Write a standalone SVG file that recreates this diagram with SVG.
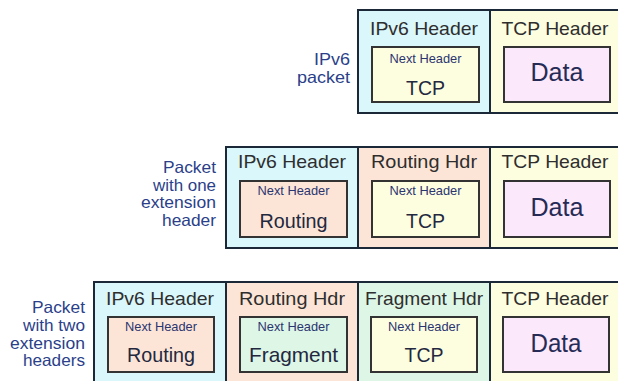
<svg xmlns="http://www.w3.org/2000/svg" width="618" height="381" viewBox="0 0 618 381">
<style>
.cell{stroke:#1a2838;stroke-width:2}
.ipv6{fill:#daf7fb}.rout{fill:#fce5d7}.frag{fill:#def6e6}.tcp{fill:#fdfde0}.data{fill:#fbe8fb}
.inner{stroke:#333;stroke-width:2}
text{font-family:"Liberation Sans",Arial,sans-serif}
.hl{font-size:19px;fill:#2e2e2e;text-anchor:middle}
.nh{font-size:13px;fill:#2b3570;text-anchor:middle}
.val{font-size:21px;fill:#23283f;text-anchor:middle}
.dt{font-size:26px;fill:#262b55;text-anchor:middle}
.lbl{font-size:16.5px;fill:#2b3f8a;text-anchor:end}
</style>
<rect width="618" height="381" fill="#ffffff"/>

<!-- Row 1 -->
<g id="row1-label">
<text class="lbl" x="350" y="65" textLength="36" lengthAdjust="spacingAndGlyphs">IPv6</text>
<text class="lbl" x="350" y="83" textLength="53" lengthAdjust="spacingAndGlyphs">packet</text>
</g>
<g id="row1-ipv6">
<rect class="cell ipv6" x="358" y="10" width="132" height="103"/>
<text class="hl" x="424" y="35" textLength="108" lengthAdjust="spacingAndGlyphs">IPv6 Header</text>
<rect class="inner tcp" x="372" y="47" width="107" height="55"/>
<text class="nh" x="425.5" y="63" textLength="72" lengthAdjust="spacingAndGlyphs">Next Header</text>
<text class="val" x="425.5" y="95" textLength="39" lengthAdjust="spacingAndGlyphs">TCP</text>
</g>
<g id="row1-tcp">
<rect class="cell tcp" x="490" y="10" width="132" height="103"/>
<text class="hl" x="555" y="35" textLength="107" lengthAdjust="spacingAndGlyphs">TCP Header</text>
<rect class="inner data" x="504" y="47" width="106" height="55"/>
<text class="dt" x="557" y="81" textLength="53" lengthAdjust="spacingAndGlyphs">Data</text>
</g>

<!-- Row 2 -->
<g id="row2-label">
<text class="lbl" x="216" y="173" textLength="53" lengthAdjust="spacingAndGlyphs">Packet</text>
<text class="lbl" x="216" y="190.5" textLength="63" lengthAdjust="spacingAndGlyphs">with one</text>
<text class="lbl" x="216" y="208" textLength="75" lengthAdjust="spacingAndGlyphs">extension</text>
<text class="lbl" x="216" y="225.5" textLength="54" lengthAdjust="spacingAndGlyphs">header</text>
</g>
<g id="row2-ipv6">
<rect class="cell ipv6" x="226" y="147" width="132" height="101"/>
<text class="hl" x="292" y="168" textLength="108" lengthAdjust="spacingAndGlyphs">IPv6 Header</text>
<rect class="inner rout" x="240" y="181" width="107" height="56"/>
<text class="nh" x="293.5" y="195" textLength="72" lengthAdjust="spacingAndGlyphs">Next Header</text>
<text class="val" x="293.5" y="228" textLength="68" lengthAdjust="spacingAndGlyphs">Routing</text>
</g>
<g id="row2-routing">
<rect class="cell rout" x="358" y="147" width="132" height="101"/>
<text class="hl" x="424" y="168" textLength="106" lengthAdjust="spacingAndGlyphs">Routing Hdr</text>
<rect class="inner tcp" x="372" y="181" width="107" height="56"/>
<text class="nh" x="425.5" y="195" textLength="72" lengthAdjust="spacingAndGlyphs">Next Header</text>
<text class="val" x="425.5" y="228" textLength="39" lengthAdjust="spacingAndGlyphs">TCP</text>
</g>
<g id="row2-tcp">
<rect class="cell tcp" x="490" y="147" width="132" height="101"/>
<text class="hl" x="555" y="168" textLength="107" lengthAdjust="spacingAndGlyphs">TCP Header</text>
<rect class="inner data" x="504" y="181" width="106" height="56"/>
<text class="dt" x="557" y="216" textLength="53" lengthAdjust="spacingAndGlyphs">Data</text>
</g>

<!-- Row 3 -->
<g id="row3-label">
<text class="lbl" x="85" y="313" textLength="53" lengthAdjust="spacingAndGlyphs">Packet</text>
<text class="lbl" x="85" y="331" textLength="62" lengthAdjust="spacingAndGlyphs">with two</text>
<text class="lbl" x="85" y="348.5" textLength="75" lengthAdjust="spacingAndGlyphs">extension</text>
<text class="lbl" x="85" y="366" textLength="62" lengthAdjust="spacingAndGlyphs">headers</text>
</g>
<g id="row3-ipv6">
<rect class="cell ipv6" x="94" y="282" width="132" height="103"/>
<text class="hl" x="160" y="305" textLength="108" lengthAdjust="spacingAndGlyphs">IPv6 Header</text>
<rect class="inner rout" x="108" y="317" width="106" height="55"/>
<text class="nh" x="161" y="331" textLength="72" lengthAdjust="spacingAndGlyphs">Next Header</text>
<text class="val" x="161" y="362" textLength="68" lengthAdjust="spacingAndGlyphs">Routing</text>
</g>
<g id="row3-routing">
<rect class="cell rout" x="226" y="282" width="132" height="103"/>
<text class="hl" x="292" y="305" textLength="106" lengthAdjust="spacingAndGlyphs">Routing Hdr</text>
<rect class="inner frag" x="240" y="317" width="107" height="55"/>
<text class="nh" x="293.5" y="331" textLength="72" lengthAdjust="spacingAndGlyphs">Next Header</text>
<text class="val" x="293.5" y="362" textLength="89" lengthAdjust="spacingAndGlyphs">Fragment</text>
</g>
<g id="row3-fragment">
<rect class="cell frag" x="358" y="282" width="132" height="103"/>
<text class="hl" x="424" y="305" textLength="118" lengthAdjust="spacingAndGlyphs">Fragment Hdr</text>
<rect class="inner tcp" x="371" y="317" width="106" height="55"/>
<text class="nh" x="424" y="331" textLength="72" lengthAdjust="spacingAndGlyphs">Next Header</text>
<text class="val" x="424" y="362" textLength="39" lengthAdjust="spacingAndGlyphs">TCP</text>
</g>
<g id="row3-tcp">
<rect class="cell tcp" x="490" y="282" width="132" height="103"/>
<text class="hl" x="555" y="305" textLength="107" lengthAdjust="spacingAndGlyphs">TCP Header</text>
<rect class="inner data" x="503" y="317" width="106" height="55"/>
<text class="dt" x="556" y="352" textLength="51" lengthAdjust="spacingAndGlyphs">Data</text>
</g>
</svg>
